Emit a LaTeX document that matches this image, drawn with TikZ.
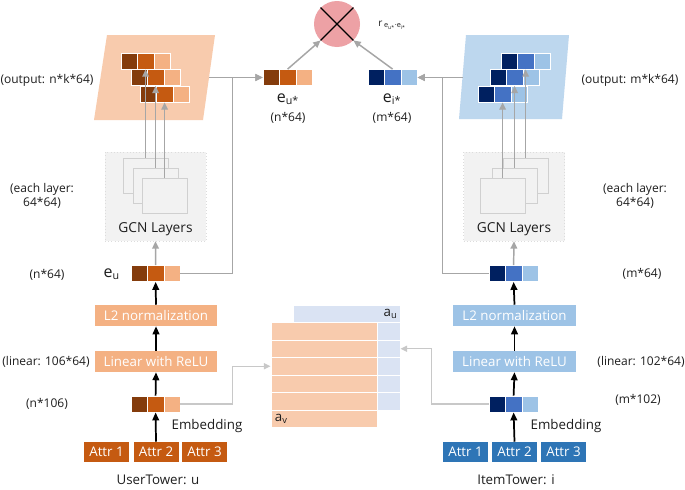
\documentclass[tikz,border=0pt]{standalone}
\usepackage{fontspec}
\setmainfont{Open Sans}
\usetikzlibrary{arrows.meta}
\definecolor{brD}{HTML}{843C0C}
\definecolor{brM}{HTML}{C55A11}
\definecolor{brL}{HTML}{F4B183}
\definecolor{peach}{HTML}{F8CBAD}
\definecolor{blD}{HTML}{002060}
\definecolor{blM}{HTML}{4472C4}
\definecolor{blL}{HTML}{9DC3E6}
\definecolor{paleblue}{HTML}{BDD7EE}
\definecolor{mblue}{HTML}{DAE3F3}
\definecolor{attrblue}{HTML}{2E75B6}
\definecolor{gcnfill}{HTML}{F2F2F2}
\definecolor{gcnline}{HTML}{D0D0D0}
\definecolor{gcnout}{HTML}{DCDCDC}
\definecolor{agray}{HTML}{A6A6A6}
\definecolor{lgray}{HTML}{C8C8C8}
\definecolor{pinkc}{HTML}{EDA1A5}
\definecolor{txt}{HTML}{1E1E1E}
\newcommand{\vthree}[6]{%
  \node[cell,fill=#4] (#11) at ({#2+8.2},#3) {};
  \node[cell,fill=#5] (#12) at ({#2+24.6},#3) {};
  \node[cell,fill=#6] (#13) at ({#2+41},#3) {};}
\begin{document}
\begin{tikzpicture}[x=0.75pt,y=-0.75pt,
  cell/.style={rectangle,draw=white,line width=0.4pt,minimum width=12.3pt,minimum height=12.2pt,inner sep=0pt},
  tbox/.style={rectangle,inner sep=0pt,text=white,font=\fontsize{10}{12}\selectfont},
  lbl/.style={font=\fontsize{9}{11}\selectfont,text=txt,align=center,inner sep=0pt},
  big/.style={font=\fontsize{10}{12}\selectfont,text=txt,align=center,inner sep=0pt},
  gout/.style={rectangle,fill=gcnfill,draw=gcnout,dotted,line width=0.4pt,minimum width=75.75pt,minimum height=66.75pt,inner sep=0pt},
  gin/.style={rectangle,fill=gcnfill,draw=gcnline,line width=0.4pt,minimum width=33.75pt,minimum height=26.25pt,inner sep=0pt},
  mrow/.style={rectangle,draw=white,line width=0.6pt,minimum height=13.125pt,inner sep=0pt},
  garrow/.style={draw=agray,line width=1.1pt,-{Triangle[length=5.5pt,width=5pt]}},
  larrow/.style={draw=lgray,line width=1pt,-{Triangle[length=5pt,width=4.5pt]}},
  barrow/.style={draw=black,line width=1.3pt,-{Triangle[length=6pt,width=5pt]}}]
\useasboundingbox (0,0) rectangle (685,489);
\fill[white] (0,0) rectangle (685,489);

% ---------- parallelograms
\fill[peach] (107,35) -- (215,35) -- (203,120) -- (94,120) -- cycle;
\fill[paleblue] (466,35) -- (569,35) -- (562,119) -- (459,119) -- cycle;
\coordinate (pl) at (209,77.5);
\coordinate (pr) at (463,77.5);

% staircases
\vthree{La}{121}{61}{brD}{brM}{brL}
\vthree{Lb}{131}{77.5}{brD}{brM}{brL}
\vthree{Lc}{140}{94}{brD}{brM}{brL}
\vthree{Ra}{501}{61}{blD}{blM}{blL}
\vthree{Rb}{490}{77.5}{blD}{blM}{blL}
\vthree{Rc}{478}{94}{blD}{blM}{blL}

% ---------- top
\node[circle,fill=pinkc,minimum size=34.5pt,inner sep=0pt] (dot) at (337,24) {};
\draw[black,line width=1pt] (dot.north west) -- (dot.south east);
\draw[black,line width=1pt] (dot.north east) -- (dot.south west);
\node[inner sep=0pt,text=txt] (rlab) at (392,25) {\fontsize{7.5}{8}\selectfont r\,\raisebox{-1pt}{\fontsize{5.5}{6}\selectfont e\textsubscript{u*}·e\textsubscript{i*}}};

\vthree{eus}{263}{77.5}{brD}{brM}{brL}
\vthree{eis}{368}{77.5}{blD}{blM}{blL}
\node[big] (eusl) at (288,99) {\fontsize{12}{12}\selectfont e\textsubscript{u*}};
\node[lbl] (eusd) at (288,118) {(n*64)};
\node[big] (eisl) at (392,99) {\fontsize{12}{12}\selectfont e\textsubscript{i*}};
\node[lbl] (eisd) at (392,118) {(m*64)};
\draw[garrow] (eus2.north) -- (dot.south west);
\draw[garrow] (eis2.north) -- (dot.south east);

% ---------- GCN boxes
\node[gout] (gL) at (155.5,196.5) {};
\node[gin] (gL1) at (145.5,175.5) {};
\node[gin] (gL2) at (155.5,185.5) {};
\node[gin] (gL3) at (165,196) {};
\node[big,font=\fontsize{10.3}{12}\selectfont] (gLt) at (155.5,229) {GCN Layers};
\node[gout] (gR) at (514,196.5) {};
\node[gin] (gR1) at (525.5,175.5) {};
\node[gin] (gR2) at (514.5,185.5) {};
\node[gin] (gR3) at (503,196) {};
\node[big,font=\fontsize{10.3}{12}\selectfont] (gRt) at (514,229) {GCN Layers};

\draw[garrow] (gL1.north -| La2.south) -- (La2.south);
\draw[garrow] (gL2.north -| Lb2.south) -- (Lb2.south);
\draw[garrow] (gL3.north -| Lc2.south) -- (Lc2.south);
\draw[garrow] (gR1.north -| Ra2.south) -- (Ra2.south);
\draw[garrow] (gR2.north -| Rb2.south) -- (Rb2.south);
\draw[garrow] (gR3.north -| Rc2.south) -- (Rc2.south);

% ---------- GCN inputs
\vthree{eu}{131}{273.5}{brD}{brM}{brL}
\vthree{ei}{489}{273.5}{blD}{blM}{blL}
\node[big,anchor=east] (eul) at (120,274) {\fontsize{12}{12}\selectfont e\textsubscript{u}};
\draw[garrow] (eu2.north) -- (gL.south);
\draw[garrow] (ei2.north) -- (gR.south);

\draw[garrow] (pl) -- (eus1.west);
\draw[garrow] (eu3.east) -- ++(52,0) |- (eus1.west);
\draw[garrow] (pr) -- (eis3.east);
\draw[garrow] (ei1.west) -- ++(-46,0) |- (eis3.east);

% ---------- towers
\node[tbox,fill=brL,minimum width=91.5pt,minimum height=15.75pt] (l2L) at (156,315.5) {L2 normalization};
\node[tbox,fill=brL,minimum width=91.5pt,minimum height=15.75pt] (linL) at (156,361.5) {Linear with ReLU};
\node[tbox,fill=blL,minimum width=92.25pt,minimum height=15.75pt] (l2R) at (514.5,315.5) {L2 normalization};
\node[tbox,fill=blL,minimum width=92.25pt,minimum height=15.75pt] (linR) at (514.5,361.5) {Linear with ReLU};

\vthree{emu}{131}{404}{brD}{brM}{brL}
\vthree{emi}{489}{404}{blD}{blM}{blL}

\node[tbox,fill=brM,minimum width=33.75pt,minimum height=15pt] (aL1) at (106.5,452) {Attr 1};
\node[tbox,fill=brM,minimum width=33.75pt,minimum height=15pt] (aL2) at (156,452) {Attr 2};
\node[tbox,fill=brM,minimum width=33.75pt,minimum height=15pt] (aL3) at (204.5,452) {Attr 3};
\node[tbox,fill=attrblue,minimum width=33.75pt,minimum height=15pt] (aR1) at (465.5,452) {Attr 1};
\node[tbox,fill=attrblue,minimum width=33.75pt,minimum height=15pt] (aR2) at (514.5,452) {Attr 2};
\node[tbox,fill=attrblue,minimum width=33.75pt,minimum height=15pt] (aR3) at (563.5,452) {Attr 3};

\draw[barrow] (l2L.north) -- (eu2.south);
\draw[barrow] (linL.north) -- (l2L.south);
\draw[barrow] (emu2.north) -- (linL.south);
\draw[barrow] (aL2.north) -- (emu2.south);
\draw[barrow] (l2R.north) -- (ei2.south);
\draw[barrow] (linR.north) -- (l2R.south);
\draw[barrow] (emi2.north) -- (linR.south);
\draw[barrow] (aR2.north) -- (emi2.south);

% ---------- middle matrix
\foreach \k in {1,...,6} {
  \node[mrow,fill=mblue,minimum width=80.25pt] (mb\k) at (346.5,{305+17.5*(\k-1)+8.75}) {};
}
\foreach \k in {1,...,6} {
  \node[mrow,fill=peach,minimum width=79.5pt] (mo\k) at (324,{322.5+17.5*(\k-1)+8.75}) {};
}
\node[big,anchor=east] (au) at ([xshift=-2pt]mb1.east) {a\textsubscript{u}};
\node[big,anchor=west] (av) at ([xshift=3pt]mo6.west) {a\textsubscript{v}};

\draw[larrow] (emu3.east) -- ++(52,0) |- (mo3.west);
\draw[larrow] (emi1.west) -- ++(-57,0) |- (mb3.east);

% ---------- labels
\node[lbl] (t1) at (47,80) {(output: n*k*64)};
\node[lbl] (t2) at (42,196) {(each layer:\\64*64)};
\node[lbl] (t3) at (47,275) {(n*64)};
\node[lbl] (t4) at (46,362) {(linear: 106*64)};
\node[lbl] (t5) at (47,404) {(n*106)};
\node[big] (t6) at (207,426) {Embedding};
\node[big] (t7) at (158,480) {UserTower: u};
\node[lbl] (s1) at (630,80) {(output: m*k*64)};
\node[lbl] (s2) at (635,196) {(each layer:\\64*64)};
\node[lbl] (s3) at (642,274) {(m*64)};
\node[lbl] (s4) at (641,362) {(linear: 102*64)};
\node[lbl] (s5) at (638,400) {(m*102)};
\node[big] (s6) at (566,426) {Embedding};
\node[big] (s7) at (516,480) {ItemTower: i};
\end{tikzpicture}
\end{document}
